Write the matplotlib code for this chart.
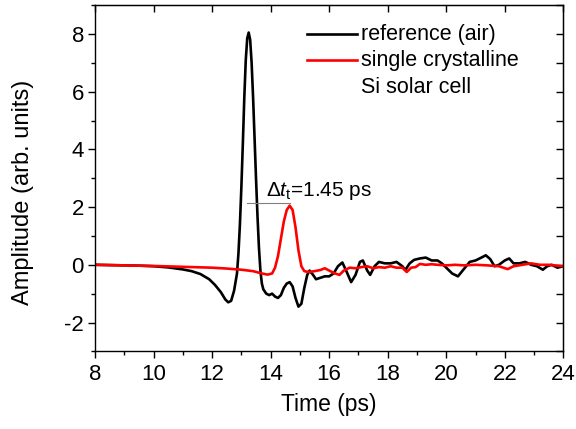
import numpy as np
import matplotlib
matplotlib.use('Agg')
import matplotlib.pyplot as plt
from matplotlib.ticker import MultipleLocator

plt.rcParams['font.family'] = ['Liberation Sans', 'DejaVu Sans']
plt.rcParams['mathtext.fontset'] = 'custom'
plt.rcParams['mathtext.rm'] = 'Liberation Sans'
plt.rcParams['mathtext.it'] = 'Liberation Sans:italic'
plt.rcParams['axes.unicode_minus'] = False

# pulso de referencia (aire)
t_ref = [8.0, 8.5, 9.0, 9.5, 10.0, 10.5, 11.0, 11.3, 11.6, 11.9, 12.1, 12.3, 12.45, 12.55,
         12.65, 12.75, 12.85, 12.9, 12.95, 13.0, 13.05, 13.1, 13.15, 13.2, 13.25, 13.3,
         13.35, 13.4, 13.45, 13.5, 13.55, 13.6, 13.65, 13.7, 13.75, 13.85, 13.95, 14.05,
         14.15, 14.25, 14.35, 14.45, 14.55, 14.65, 14.75, 14.85, 14.95, 15.05, 15.15, 15.25,
         15.33, 15.45, 15.55, 15.7, 15.85, 16.0, 16.15, 16.3, 16.45, 16.6, 16.75, 16.9,
         17.05, 17.15, 17.3, 17.4, 17.55, 17.7, 17.9, 18.1, 18.3, 18.5, 18.6, 18.75, 18.9,
         19.1, 19.3, 19.5, 19.7, 19.85, 20.0, 20.2, 20.4, 20.6, 20.8, 21.0, 21.2, 21.35,
         21.5, 21.65, 21.8, 22.0, 22.15, 22.3, 22.5, 22.7, 22.9, 23.1, 23.3, 23.45, 23.6,
         23.8, 24.0]
a_ref = [0.0, -0.01, -0.02, -0.03, -0.05, -0.09, -0.16, -0.22, -0.32, -0.5, -0.7, -0.95,
         -1.2, -1.3, -1.25, -0.9, -0.3, 0.4, 1.4, 2.7, 4.2, 5.8, 7.1, 7.85, 8.05, 7.8,
         7.0, 5.8, 4.4, 3.0, 1.7, 0.6, -0.2, -0.65, -0.85, -1.0, -1.05, -1.0,
         -1.1, -1.15, -1.05, -0.8, -0.65, -0.6, -0.75, -1.15, -1.45, -1.35, -0.8, -0.35,
         -0.2, -0.35, -0.5, -0.45, -0.4, -0.4, -0.3, -0.05, 0.08, -0.25, -0.6, -0.35,
         0.1, 0.15, -0.2, -0.35, -0.05, 0.1, 0.05, 0.05, 0.1, -0.05, -0.18, 0.05, 0.17,
         0.22, 0.25, 0.15, 0.15, 0.05, -0.1, -0.3, -0.4, -0.15, 0.1, 0.15, 0.25, 0.33,
         0.2, -0.05, 0.0, 0.15, 0.22, 0.05, 0.05, 0.1, 0.0, -0.05, -0.17, -0.05, 0.0,
         -0.1, -0.05]

# pulso transmitido por la celda de Si monocristalino
t_si = [8.0, 9.0, 10.0, 11.0, 12.0, 12.5, 13.0, 13.4, 13.7, 13.9, 14.05, 14.15, 14.25,
        14.35, 14.45, 14.55, 14.65, 14.75, 14.85, 14.95, 15.05, 15.15, 15.3, 15.5, 15.7,
        15.85, 16.0, 16.2, 16.35, 16.5, 16.7, 16.9, 17.1, 17.3, 17.5, 17.7, 17.9, 18.1,
        18.3, 18.5, 18.65, 18.8, 18.95, 19.1, 19.3, 19.5, 19.7, 20.0, 20.3, 20.6, 21.0,
        21.4, 21.8, 22.1, 22.3, 22.6, 22.9, 23.2, 23.5, 23.8, 24.0]
a_si = [0.0, -0.02, -0.04, -0.07, -0.1, -0.13, -0.17, -0.22, -0.3, -0.34, -0.3, -0.1, 0.3,
        0.9, 1.5, 1.9, 2.05, 1.9, 1.3, 0.5, -0.05, -0.22, -0.25, -0.22, -0.18,
        -0.12, -0.2, -0.3, -0.35, -0.2, -0.1, -0.12, -0.08, -0.05, -0.12, -0.08, -0.1, -0.05,
        -0.1, -0.1, -0.25, -0.1, -0.08, 0.03, 0.0, 0.02, 0.0, -0.02, 0.0, -0.02, 0.0,
        -0.02, -0.05, -0.15, -0.05, 0.0, 0.05, 0.0, 0.0, -0.03, -0.05]

# picos para el retardo
t_pico_ref = 13.2
t_pico_si = 14.65
dt = 1.45

fig = plt.figure(figsize=(5.76, 4.29), dpi=100)
ax = fig.add_axes([0.165, 0.181, 0.813, 0.807])

ax.plot(t_ref, a_ref, color='black', lw=1.9)
ax.plot(t_si, a_si, color='red', lw=1.9)

# linea del retardo entre picos
ax.plot([t_pico_ref, t_pico_si], [2.15, 2.15], color='gray', lw=0.8)
ax.text(13.84, 2.4, r'$\Delta t_{\rm t}$' + f'={dt:.2f} ps', fontsize=15)

# leyenda hecha a mano
ax.plot([0.452, 0.559], [0.916, 0.916], color='black', lw=1.9, transform=ax.transAxes)
ax.text(0.569, 0.916, 'reference (air)', transform=ax.transAxes, fontsize=15.5, va='center')
ax.plot([0.452, 0.559], [0.841, 0.841], color='red', lw=1.9, transform=ax.transAxes)
ax.text(0.569, 0.841, 'single crystalline', transform=ax.transAxes, fontsize=15.5, va='center')
ax.text(0.569, 0.763, 'Si solar cell', transform=ax.transAxes, fontsize=15.5, va='center')

ax.set_xlim(8, 24)
ax.set_ylim(-3, 9)
ax.xaxis.set_major_locator(MultipleLocator(2))
ax.xaxis.set_minor_locator(MultipleLocator(1))
ax.yaxis.set_major_locator(MultipleLocator(2))
ax.yaxis.set_minor_locator(MultipleLocator(1))
ax.tick_params(which='both', direction='out', labelsize=16, width=1)
ax.tick_params(which='major', length=5)
ax.tick_params(which='minor', length=3)
ax.tick_params(axis='x', pad=4)
ax.tick_params(axis='y', pad=3)

# marcas interiores arriba y a la derecha
top = ax.secondary_xaxis('top')
top.xaxis.set_major_locator(MultipleLocator(2))
top.tick_params(direction='in', length=5, width=1, labeltop=False)
right = ax.secondary_yaxis('right')
right.yaxis.set_major_locator(MultipleLocator(1))
right.tick_params(direction='in', length=5, width=1, labelright=False)

for s in ax.spines.values():
    s.set_linewidth(1)

ax.set_xlabel('Time (ps)', fontsize=16.5, labelpad=6)
ax.set_ylabel('Amplitude (arb. units)', fontsize=17)
ax.yaxis.set_label_coords(-0.13, 0.458)

fig.savefig('out.png', dpi=100)
